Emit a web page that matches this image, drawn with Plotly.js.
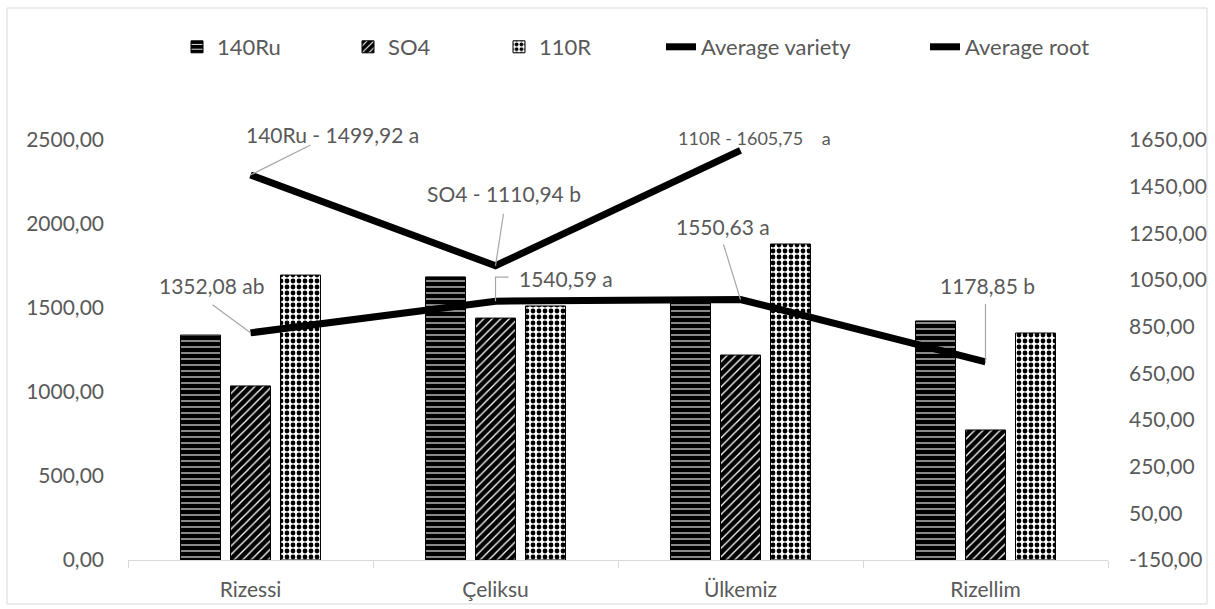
<!DOCTYPE html>
<html>
<head>
<meta charset="utf-8">
<script src="https://cdn.plot.ly/plotly-3.0.1.min.js"></script>
<style>
  html, body { margin: 0; padding: 0; background: #ffffff; }
  #chart { width: 1215px; height: 609px; }
</style>
</head>
<body>
<div id="chart"></div>
<script>
// ---- data ----
const categories = ['Rizessi', 'Çeliksu', 'Ülkemiz', 'Rizellim'];
const ru140 = [1339, 1685, 1545, 1423];
const so4 = [1036, 1440, 1220, 774];
const r110 = [1696, 1512, 1881, 1351];
const avgVariety = [1352.08, 1540.59, 1550.63, 1178.85];
const varietyLetters = ['ab', 'a', 'a', 'b'];
const rootCategories = ['Rizessi', 'Çeliksu', 'Ülkemiz'];
const avgRoot = [1499.92, 1110.94, 1605.75];
const rootNames = ['140Ru', 'SO4', '110R'];
const rootLetters = ['a', 'b', '\u00a0\u00a0 a'];
const leftTicks = [0, 500, 1000, 1500, 2000, 2500];
const rightTicks = [-150, 50, 250, 450, 650, 850, 1050, 1250, 1450, 1650];

// ---- styling ----
const FONT = 'Lato, "Open Sans", sans-serif';
const GREY = '#595959';
const fmt = v => v.toFixed(2).replace('.', ',');

// plot geometry (px)
const L = 128, R = 107, T = 140, B = 49;
const PW = 1215 - L - R, PH = 609 - T - B;
const px2paperX = px => (px - L) / PW;
const px2paperY = py => (609 - B - py) / PH;

function legendAt(textX, textY) {
  return {
    x: px2paperX(textX - 40), xanchor: 'left',
    y: px2paperY(textY), yanchor: 'middle',
    orientation: 'h', bgcolor: 'rgba(0,0,0,0)',
    font: {family: FONT, size: 22, color: GREY},
    itemclick: false
  };
}

const traces = [
  {
    type: 'bar', x: categories, name: '140Ru', y: ru140, legend: 'legend',
    marker: {color: '#000', line: {color: '#000', width: 1},
      pattern: {shape: '-', fgcolor: '#ffffff', bgcolor: '#000000', size: 6, solidity: 0.18}}
  },
  {
    type: 'bar', x: categories, name: 'SO4', y: so4, legend: 'legend2',
    marker: {color: '#000', line: {color: '#000', width: 1},
      pattern: {shape: '/', fgcolor: '#ffffff', bgcolor: '#000000', size: 6, solidity: 0.22}}
  },
  {
    type: 'bar', x: categories, name: '110R', y: r110, legend: 'legend3',
    marker: {color: '#fff', line: {color: '#000', width: 1},
      pattern: {shape: '.', fgcolor: '#000000', bgcolor: '#ffffff', size: 6, solidity: 0.5}}
  },
  {
    type: 'scatter', mode: 'lines', name: 'Average variety', legend: 'legend4',
    x: categories, y: avgVariety, yaxis: 'y',
    line: {color: '#000', width: 7}
  },
  {
    type: 'scatter', mode: 'lines', name: 'Average root', legend: 'legend5',
    x: rootCategories, y: avgRoot, yaxis: 'y2',
    line: {color: '#000', width: 7}
  }
];

// label offsets (px): text centre offset and leader path relative to the point
const varietyLabelPos = [
  {tx: -39, ty: 47, path: 'M0,0 L-38,28'},
  {tx: 70, ty: 23, path: 'M0,0 L0,24 L13,24'},
  {tx: -18, ty: 73, path: 'M0,0 L-17,55'},
  {tx: 2, ty: 76, path: 'M0,0 L0,58'}
];
const rootLabelPos = [
  {tx: 82, ty: 41, path: 'M0,0 L60,30', size: 21},
  {tx: 8, ty: 72, path: 'M0,0 L8,52', size: 21},
  {tx: 14, ty: 12, path: null, size: 18}
];

const annotations = [];
const shapes = [];
avgVariety.forEach((v, i) => {
  const p = varietyLabelPos[i];
  annotations.push({
    x: categories[i], y: v, xref: 'x', yref: 'y', showarrow: false,
    text: fmt(v) + ' ' + varietyLetters[i], xshift: p.tx, yshift: p.ty,
    font: {family: FONT, size: 21, color: GREY}
  });
  shapes.push({
    type: 'path', xref: 'x', yref: 'y', xsizemode: 'pixel', ysizemode: 'pixel',
    xanchor: categories[i], yanchor: v, path: p.path,
    line: {color: '#a6a6a6', width: 1.2}, layer: 'above'
  });
});
avgRoot.forEach((v, i) => {
  const p = rootLabelPos[i];
  annotations.push({
    x: rootCategories[i], y: v, xref: 'x', yref: 'y2', showarrow: false,
    text: rootNames[i] + ' - ' + fmt(v) + ' ' + rootLetters[i], xshift: p.tx, yshift: p.ty,
    font: {family: FONT, size: p.size, color: GREY}
  });
  if (p.path) {
    shapes.push({
      type: 'path', xref: 'x', yref: 'y2', xsizemode: 'pixel', ysizemode: 'pixel',
      xanchor: rootCategories[i], yanchor: v, path: p.path,
      line: {color: '#a6a6a6', width: 1.2}, layer: 'above'
    });
  }
});
// chart border
shapes.push({
  type: 'rect', xref: 'paper', yref: 'paper',
  x0: px2paperX(7), x1: px2paperX(1207), y0: px2paperY(604), y1: px2paperY(8),
  line: {color: '#d9d9d9', width: 1}, fillcolor: 'rgba(0,0,0,0)', layer: 'below'
});

const layout = {
  width: 1215, height: 609,
  margin: {l: L, r: R, t: T, b: B, pad: 0},
  paper_bgcolor: '#ffffff', plot_bgcolor: '#ffffff',
  separators: ',.',
  font: {family: FONT, size: 21, color: GREY},
  barmode: 'group', bargap: 0.388, bargroupgap: 0.2,
  xaxis: {
    type: 'category', range: [-0.5, 3.5],
    showline: true, linecolor: '#d9d9d9', linewidth: 1,
    ticks: 'outside', tickson: 'boundaries', ticklen: 7, tickcolor: '#d9d9d9',
    showgrid: false, zeroline: false,
    tickfont: {family: FONT, size: 21, color: GREY}, ticklabelstandoff: 11
  },
  yaxis: {
    range: [0, 2500], tickvals: leftTicks, ticktext: leftTicks.map(fmt),
    showgrid: false, zeroline: false, showline: false, ticks: '',
    tickfont: {family: FONT, size: 21, color: GREY}, ticklabelstandoff: 23
  },
  yaxis2: {
    overlaying: 'y', side: 'right', range: [-150, 1650], tickvals: rightTicks, ticktext: rightTicks.map(fmt),
    showgrid: false, zeroline: false, showline: false, ticks: '',
    tickfont: {family: FONT, size: 21, color: GREY}, ticklabelstandoff: 20
  },
  legend: legendAt(217, 47),
  legend2: legendAt(388, 47),
  legend3: legendAt(539, 47),
  legend4: legendAt(701, 47),
  legend5: legendAt(965, 47),
  annotations: annotations,
  shapes: shapes,
  showlegend: true
};

Plotly.newPlot('chart', traces, layout, {displayModeBar: false, staticPlot: true});
</script>
</body>
</html>
